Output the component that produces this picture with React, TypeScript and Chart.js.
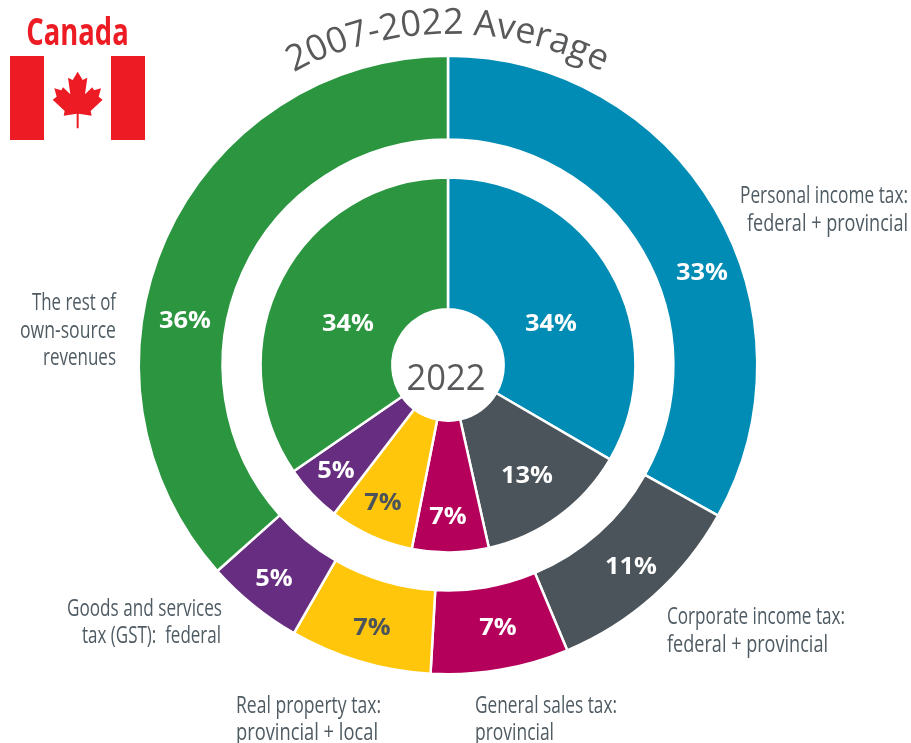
import React, { useEffect, useRef } from "react";
import { Chart, registerables } from "chart.js";

Chart.register(...registerables);

const categories = [
  "Personal income tax",
  "Corporate income tax",
  "General sales tax",
  "Real property tax",
  "Goods and services tax (GST)",
  "The rest of own-source revenues",
];
const average20072022 = [33.1, 10.6, 7.2, 7.4, 5.1, 36.6];
const year2022 = [33.4, 13.1, 6.6, 7.3, 5.0, 34.6];
const averageLabels = ["33%", "11%", "7%", "7%", "5%", "36%"];
const year2022Labels = ["34%", "13%", "7%", "7%", "5%", "34%"];
const sliceColors = ["#008cb4", "#4a545a", "#b4005a", "#ffc60b", "#662d80", "#2b963f"];
const percentTextColors = ["#ffffff", "#ffffff", "#ffffff", "#4a545a", "#ffffff", "#ffffff"];

const averagePercentPos = [[702, 273], [631, 567], [498, 628], [372, 628], [274, 579], [185, 321]];
const year2022PercentPos = [[551, 324], [527, 476], [448, 517], [383, 503], [336, 471], [348, 324]];

const calloutLines: [string, number, number, CanvasTextAlign, number][] = [
  ["Personal income tax:", 908, 203, "right", 168],
  ["federal + provincial", 908, 231, "right", 161],
  ["Corporate income tax:", 667, 624, "left", 178],
  ["federal + provincial", 667, 652, "left", 161],
  ["General sales tax:", 475, 713, "left", 142],
  ["provincial", 475, 740, "left", 79],
  ["Real property tax:", 236, 713, "left", 145],
  ["provincial + local", 236, 740, "left", 142],
  ["Goods and services", 222, 616, "right", 155],
  ["tax (GST):  federal", 221, 643, "right", 139],
  ["The rest of", 116, 310, "right", 84],
  ["own-source", 116, 338, "right", 96],
  ["revenues", 116, 365, "right", 73],
];

const TITLE = "2007-2022 Average";
const CENTER = "2022";
const COUNTRY = "Canada";
const RED = "#ed1c24";
const GREY = "#58595b";
const LABEL = "#4f5b63";

const leafRight = [
  [233, 215], [248, 240], [262, 233], [255, 283], [277, 262], [282, 271], [303, 265],
  [296, 290], [308, 299], [272, 333], [275, 347], [236, 341], [236, 385],
];

function squeezed(
  ctx: CanvasRenderingContext2D,
  text: string,
  x: number,
  y: number,
  font: string,
  color: string,
  align: CanvasTextAlign,
  sx: number,
  baseline: CanvasTextBaseline = "alphabetic"
) {
  ctx.save();
  ctx.font = font;
  ctx.fillStyle = color;
  ctx.textAlign = align;
  ctx.textBaseline = baseline;
  ctx.translate(x, y);
  ctx.scale(sx, 1);
  ctx.fillText(text, 0, 0);
  ctx.restore();
}

const decorPlugin = {
  id: "decor",
  beforeDatasetsDraw(chart: any) {
    const ctx: CanvasRenderingContext2D = chart.ctx;
    ctx.save();
    // Flag
    ctx.fillStyle = RED;
    ctx.fillRect(10, 56, 34, 84);
    ctx.fillRect(111, 56, 34, 84);
    ctx.beginPath();
    leafRight.forEach(([x, y], i) => {
      if (i === 0) ctx.moveTo(x / 3, y / 3);
      else ctx.lineTo(x / 3, y / 3);
    });
    [...leafRight].reverse().forEach(([x, y]) => ctx.lineTo((466 - x) / 3, y / 3));
    ctx.closePath();
    ctx.fill();
    ctx.restore();
    squeezed(ctx, COUNTRY, 77.5, 45, "bold 37px 'Open Sans'", RED, "center", 0.74);

    // Curved title
    const meta = chart.getDatasetMeta(0);
    const cx = meta.data[0].x;
    const cy = meta.data[0].y;
    const R = 331;
    ctx.save();
    ctx.font = "36px 'Open Sans'";
    ctx.fillStyle = GREY;
    ctx.textAlign = "left";
    ctx.textBaseline = "alphabetic";
    const total = ctx.measureText(TITLE).width;
    for (let i = 0; i < TITLE.length; i++) {
      const before = ctx.measureText(TITLE.slice(0, i)).width;
      const angle = (before - total / 2) / R;
      ctx.save();
      ctx.translate(cx + R * Math.sin(angle), cy - R * Math.cos(angle));
      ctx.rotate(angle);
      ctx.fillText(TITLE[i], 0, 0);
      ctx.restore();
    }
    ctx.restore();
  },
  afterDatasetsDraw(chart: any) {
    const ctx: CanvasRenderingContext2D = chart.ctx;
    const pctFont = "bold 24px 'Open Sans'";
    const draw = (labels: string[], pos: number[][]) =>
      labels.forEach((t, i) => {
        squeezed(ctx, t, pos[i][0], pos[i][1], pctFont, percentTextColors[i], "center", 1.06, "middle");
      });
    draw(averageLabels, averagePercentPos);
    draw(year2022Labels, year2022PercentPos);
    squeezed(ctx, CENTER, 446, 390, "36px 'Open Sans'", GREY, "center", 0.96);
    const calloutFont = "24px 'Open Sans'";
    calloutLines.forEach(([t, x, y, a, w]) => {
      ctx.save();
      ctx.font = calloutFont;
      const natural = ctx.measureText(t).width;
      ctx.restore();
      squeezed(ctx, t, x, y, calloutFont, LABEL, a, w / natural);
    });
  },
};

export default function App() {
  const ref = useRef<HTMLCanvasElement | null>(null);
  useEffect(() => {
    if (!ref.current) return;
    const chart = new Chart(ref.current, {
      type: "doughnut",
      data: {
        labels: categories,
        datasets: [
          {
            label: "2007-2022 Average",
            data: average20072022,
            backgroundColor: sliceColors,
            borderColor: "#ffffff",
            borderWidth: 2.5,
            weight: 84,
          },
          {
            label: "spacer",
            data: [1],
            backgroundColor: "rgba(0,0,0,0)",
            borderWidth: 0,
            weight: 38,
          },
          {
            label: "2022",
            data: year2022,
            backgroundColor: sliceColors,
            borderColor: "#ffffff",
            borderWidth: 2.5,
            weight: 132,
          },
        ],
      },
      options: {
        responsive: false,
        animation: false,
        cutout: "18%",
        layout: { padding: { left: 137.5, right: 152.5, top: 54.5, bottom: 67.5 } },
        plugins: { legend: { display: false }, tooltip: { enabled: false } },
      },
      plugins: [decorPlugin],
    } as any);
    return () => chart.destroy();
  }, []);
  return (
    <div style={{ position: "absolute", left: 0, top: 0, width: 911, height: 743 }}>
      <canvas ref={ref} width={911} height={743} style={{ display: "block" }} />
    </div>
  );
}
